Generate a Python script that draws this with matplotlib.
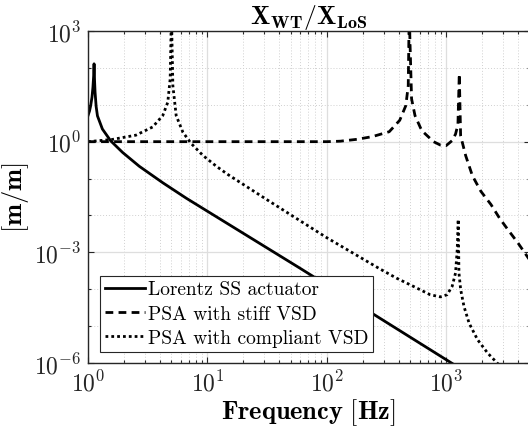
import matplotlib
matplotlib.use("Agg")
import matplotlib.pyplot as plt
from matplotlib.ticker import LogLocator, NullFormatter, FixedLocator

plt.rcParams['mathtext.fontset'] = 'cm'
plt.rcParams['font.family'] = ['cmr10', 'DejaVu Serif']
plt.rcParams['axes.formatter.use_mathtext'] = True

# Lorentz SS actuator
f_lor = [1.0, 1.03, 1.053, 1.08, 1.10, 1.115, 1.124, 1.135, 1.146, 1.17, 1.2, 1.32, 1.55, 1.95,
         2.69, 4.23, 6.65, 8.7, 59.8, 1110, 3000]
v_lor = [5.1, 6.8, 9.5, 16, 30, 60, 129, 45, 22, 9.0, 5.0, 2.2, 1.05, 0.51,
         0.215, 0.077, 0.0294, 0.0172, 3.7e-4, 1.0e-6, 1.37e-7]

# PSA with stiff VSD
f_stf = [1.0, 100, 130, 180, 241, 334, 409, 460, 482, 491, 514, 549, 625, 785, 895, 1000, 1125,
         1200, 1257, 1290, 1324, 1459, 1662, 1958, 2380, 2800, 3300, 4010, 4875, 10000]
v_stf = [1.0, 1.0, 1.03, 1.16, 1.37, 1.86, 3.8, 9.5, 33, 3000, 14.5, 5.1, 2.0, 1.0, 0.81, 0.78, 1.07,
         1.6, 2.9, 69, 1.45, 0.42, 0.119, 0.045, 0.0197, 0.0085, 0.0041, 0.00178, 0.00071, 2.4e-5]

# PSA with compliant VSD
f_cmp = [1.0, 1.6, 2.52, 3.48, 4.23, 4.66, 4.88, 5.0, 5.14, 5.48, 6.24, 7.3, 9.2, 11.9, 14.9, 31.4,
         100, 277, 384, 531, 736, 895, 1020, 1125, 1200, 1240, 1264, 1282, 1325, 1413, 1560, 1834,
         2230, 2680, 3500]
v_cmp = [1.0, 1.15, 1.5, 2.5, 5.1, 11.7, 50, 3000, 33, 5.1, 1.8, 0.9, 0.42, 0.215, 0.128, 0.027,
         0.0025, 3.6e-4, 2.0e-4, 1.2e-4, 7.1e-5, 6.2e-5, 7.1e-5, 1.2e-4, 2.75e-4, 1.17e-3, 7.8e-3,
         2.75e-4, 9.8e-5, 3.4e-5, 1.2e-5, 4.3e-6, 1.86e-6, 1.0e-6, 4.0e-7]

labels = ['Lorentz SS actuator', 'PSA with stiff VSD', 'PSA with compliant VSD']

fig = plt.figure(figsize=(5.28, 4.31), dpi=100)
ax = fig.add_axes([88/528, 67/431, 441.5/528, 332/431])

lw = 2.0
ax.plot(f_lor, v_lor, color='black', lw=lw, ls='-', label=labels[0])
ax.plot(f_stf, v_stf, color='black', lw=lw, ls=(0, (2.8, 1.9)), label=labels[1])
ax.plot(f_cmp, v_cmp, color='black', lw=lw, ls=(0, (1, 1.1)), label=labels[2])

ax.set_xscale('log')
ax.set_yscale('log')
ax.set_xlim(1, 5000)
ax.set_ylim(1e-6, 1e3)

ax.yaxis.set_major_locator(FixedLocator([1e-6, 1e-3, 1e0, 1e3]))
ax.yaxis.set_minor_locator(FixedLocator([1e-5, 1e-4, 1e-2, 1e-1, 1e1, 1e2]))
ax.yaxis.set_minor_formatter(NullFormatter())
ax.xaxis.set_major_locator(LogLocator(base=10, numticks=10))
ax.xaxis.set_minor_locator(LogLocator(base=10, subs=range(2, 10), numticks=20))
ax.xaxis.set_minor_formatter(NullFormatter())

ax.grid(which='major', color='#dedede', lw=0.9, ls='-')
ax.grid(which='minor', color='#d0d0d0', lw=0.7, ls=(0, (1, 2)))
ax.set_axisbelow(True)

for s in ax.spines.values():
    s.set_color('#262626')
    s.set_linewidth(1.0)
ax.tick_params(which='both', direction='in', top=True, right=True, colors='#262626',
               labelsize=17, width=0.8)
ax.tick_params(which='major', length=4)
ax.tick_params(which='minor', length=2.5)
ax.tick_params(axis='x', which='major', pad=5)
ax.tick_params(axis='y', which='major', pad=5)

ax.set_title(r'$\mathbf{X_{WT}/X_{LoS}}$', fontsize=18.5, pad=5)
ax.set_xlabel(r'$\mathbf{Frequency}\ [\mathbf{Hz}]$', fontsize=19, labelpad=1)
ax.set_ylabel(r'$[\mathbf{m/m}]$', fontsize=19, labelpad=2)

leg = ax.legend(loc='lower left', bbox_to_anchor=(12/441.5, 11/332), borderaxespad=0,
                fontsize=14, fancybox=False, framealpha=1, edgecolor='#262626',
                handlelength=2.06, handletextpad=0.15, labelspacing=0.33, borderpad=0.25)
leg.get_frame().set_linewidth(0.8)

fig.savefig('out.png', dpi=100)
